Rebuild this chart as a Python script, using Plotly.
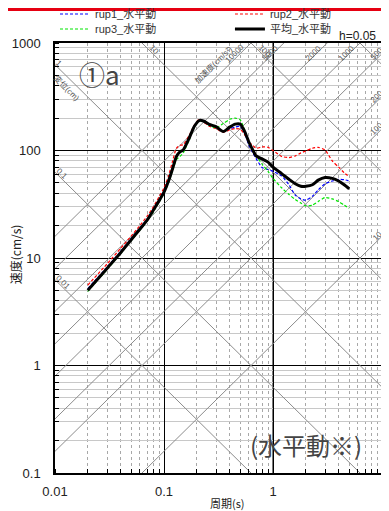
import math
import plotly.graph_objects as go

# 周期 (s) と速度応答スペクトル (cm/s), h=0.05
PERIOD_S = [0.02, 0.03, 0.04, 0.05, 0.06, 0.07, 0.08, 0.09, 0.10, 0.11, 0.12, 0.13,
            0.14, 0.15, 0.17, 0.19, 0.21, 0.23, 0.26, 0.30, 0.35, 0.40, 0.45, 0.50,
            0.55, 0.60, 0.65, 0.70, 0.80, 0.90, 1.0, 1.2, 1.4, 1.6, 1.8, 2.0, 2.3,
            2.6, 3.0, 3.5, 4.0, 4.5, 5.0]

SV_RUP1 = [5.2, 8.2, 11.5, 15.2, 19.0, 23.0, 28.5, 34.5, 42, 53, 69, 88,
           97, 101, 130, 170, 192, 190, 175, 165, 152, 160, 165, 168,
           145, 112, 96, 84, 69, 66.5, 64, 58, 48, 38.5, 35.5, 34.5, 37.5,
           43, 49, 52, 54, 53.5, 52]
SV_RUP2 = [5.6, 8.8, 12.3, 16.0, 20.0, 24.5, 30, 37, 45, 58, 80, 105,
           112, 113, 138, 172, 195, 185, 168, 160, 148, 155, 160, 158,
           140, 120, 112, 105, 108, 107, 100, 88, 86, 89, 95, 99, 105,
           107, 101, 80, 70, 62, 57]
SV_RUP3 = [4.9, 7.8, 11.0, 14.5, 18.2, 22.0, 27, 33, 40, 50, 65, 82,
           88, 95, 125, 165, 188, 187, 172, 163, 178, 195, 200, 193,
           155, 118, 103, 90, 74, 64, 55, 45, 39, 35, 32.5, 30.5, 31,
           33.5, 36.5, 35.5, 33.5, 31, 29]
SV_MEAN = [5.0, 8.0, 11.2, 14.8, 18.5, 22.5, 28, 34, 41, 52, 68, 88,
           97, 101, 130, 168, 190, 188, 175, 167, 150, 165, 176, 176,
           150, 120, 102, 89, 83, 78, 70, 61, 54, 49, 46.5, 46.5, 48,
           53, 56, 55, 52, 48, 44]

# 三軸図の補助線
DISP_CM = [0.01, 0.1, 1, 10, 100, 1000]
DISP_LABELS = ["0.01", "0.1", "1", "10", "100"]
ACC_CMS2 = [10, 100, 200, 500, 1000, 2000, 5000, 10000]

X_TICKS = [0.01, 0.1, 1, 10]
X_TICK_TEXT = ["0.01", "0.1", "1", "10"]
Y_TICKS = [0.1, 1, 10, 100, 1000]
Y_TICK_TEXT = ["0.1", "1", "10", "100", "1000"]

T_MIN, T_MAX = 0.01, 10.0
SV_MIN, SV_MAX = 0.1, 1000.0
TWO_PI = 2 * math.pi

FONT = "Liberation Sans, Noto Sans CJK JP, sans-serif"
CJK = "Noto Sans CJK JP, sans-serif"
GUIDE = "#8c8c8c"
LABEL = "#555555"

fig = go.Figure()

# diagonal guide lines (displacement: descending, acceleration: ascending)
gx, gy = [], []
for d in DISP_CM:
    gx += [T_MIN, T_MAX, None]
    gy += [TWO_PI * d / T_MIN, TWO_PI * d / T_MAX, None]
for a in ACC_CMS2:
    gx += [T_MIN, T_MAX, None]
    gy += [a * T_MIN / TWO_PI, a * T_MAX / TWO_PI, None]
fig.add_trace(go.Scatter(x=gx, y=gy, mode="lines", line=dict(color=GUIDE, width=1),
                         showlegend=False, hoverinfo="skip"))

series = [
    ("rup1_水平動", SV_RUP1, "#0000ff", 1.2, "3px,2px", "legend"),
    ("rup2_水平動", SV_RUP2, "#ff0000", 1.2, "3px,2px", "legend2"),
    ("rup3_水平動", SV_RUP3, "#00e600", 1.2, "3px,2px", "legend3"),
    ("平均_水平動", SV_MEAN, "#000000", 3, "solid", "legend4"),
]
for name, sv, color, width, dash, leg in series:
    fig.add_trace(go.Scatter(x=PERIOD_S, y=sv, mode="lines", name=name,
                             line=dict(color=color, width=width, dash=dash,
                                       shape="spline", smoothing=0.6),
                             legend=leg))

ann = []
lab_font = dict(family=FONT, size=8, color=LABEL)
for d, txt in zip(DISP_CM, DISP_LABELS):
    sv_left = TWO_PI * d / T_MIN
    n = len(txt)
    if sv_left <= SV_MAX:
        ann.append(dict(x=math.log10(T_MIN), y=math.log10(sv_left), text=txt,
                        xshift=2 + 1.5 * n, yshift=2 - 1.2 * n))
        if d == 1:
            ann.append(dict(x=math.log10(T_MIN), y=math.log10(sv_left), text="変位(cm)",
                            xshift=12, yshift=-23))
    else:
        t_top = TWO_PI * d / SV_MAX
        ann.append(dict(x=math.log10(t_top), y=math.log10(SV_MAX), text=txt,
                        xshift=8 + 2 * n, yshift=-2 - 2 * n))
for item in ann:
    item.update(textangle=45, showarrow=False, font=lab_font,
                xanchor="center", yanchor="middle", xref="x", yref="y")

acc_ann = []
for a in ACC_CMS2:
    txt = str(a)
    t_top = TWO_PI * SV_MAX / a
    if t_top <= T_MAX:
        acc_ann.append(dict(x=math.log10(t_top), y=math.log10(SV_MAX), text=txt,
                            xshift=-4 - 2.5 * len(txt), yshift=-10))
        if a == 10000:
            acc_ann.append(dict(x=math.log10(t_top), y=math.log10(SV_MAX),
                                text="加速度(cm/s²)", xshift=-38, yshift=-22))
    else:
        acc_ann.append(dict(x=math.log10(T_MAX), y=math.log10(a * T_MAX / TWO_PI),
                            text=txt, xshift=-5, yshift=0))
for item in acc_ann:
    item.update(textangle=-45, showarrow=False, font=lab_font,
                xanchor="center", yanchor="middle", xref="x", yref="y")
ann += acc_ann

centered = dict(xref="paper", yref="paper", showarrow=False,
                xanchor="center", yanchor="middle")
ann += [
    dict(**centered, x=0.1346, y=0.928, text="①a",
         font=dict(family=CJK, size=26, color="#444444")),
    dict(**centered, x=0.768, y=0.067, text="(水平動※)",
         font=dict(family=CJK, size=24, color="#444444")),
    dict(**centered, x=0.925, y=1.016, text="h=0.05",
         font=dict(family=FONT, size=12, color="#222222")),
    dict(**centered, x=-0.122, y=0.509, text="速度(cm/s)", textangle=-90,
         font=dict(family=CJK, size=12, color="#222222")),
    dict(**centered, x=0.529, y=-0.070, text="周期(s)",
         font=dict(family=CJK, size=11, color="#222222")),
]

axis_common = dict(
    type="log", showline=True, linecolor="black", linewidth=1.5, mirror=True,
    ticks="", showgrid=True, gridcolor="#000000", gridwidth=1, zeroline=False,
    tickfont=dict(family=FONT, size=13, color="#222222"),
)

fig.update_xaxes(
    **axis_common, range=[math.log10(T_MIN), math.log10(T_MAX)],
    tickvals=X_TICKS, ticktext=X_TICK_TEXT, ticklabelstandoff=6,
    minor=dict(dtick="D1", showgrid=True, gridcolor="#a8a8a8", griddash="dot",
               gridwidth=1, ticks="inside", ticklen=4, tickcolor="black"),
)
fig.update_yaxes(
    **axis_common, range=[math.log10(SV_MIN), math.log10(SV_MAX)],
    tickvals=Y_TICKS, ticktext=Y_TICK_TEXT, ticklabelstandoff=10,
    minor=dict(dtick="D1", showgrid=True, gridcolor="#c8c8c8",
               gridwidth=1, ticks="inside", ticklen=4, tickcolor="black"),
)

legend_common = dict(orientation="h", xanchor="left", yanchor="middle",
                     itemwidth=30, bgcolor="rgba(0,0,0,0)",
                     font=dict(family=FONT, size=11, color="#333333"))
row1, row2 = 1.0674, 1.0326
col1, col2 = 0.0, 0.535

# the page body adds an 8px margin, so the figure is a bit smaller than the window
fig.update_layout(
    width=381, height=503,
    margin=dict(l=47, r=7, t=35, b=38, autoexpand=False),
    paper_bgcolor="white", plot_bgcolor="white",
    annotations=ann,
    legend=dict(**legend_common, x=col1, y=row1),
    legend2=dict(**legend_common, x=col2, y=row1),
    legend3=dict(**legend_common, x=col1, y=row2),
    legend4=dict(**legend_common, x=col2, y=row2),
    shapes=[
        dict(type="rect", xref="paper", yref="paper", x0=-0.2, x1=1.1,
             y0=1.0744, y1=1.09, fillcolor="#e60012", line=dict(width=0), layer="above"),
        dict(type="line", xref="x", yref="paper", x0=1, x1=1, y0=0, y1=1,
             line=dict(color="#7a7a7a", width=2), layer="below"),
    ],
)

fig.write_html("out.html")
